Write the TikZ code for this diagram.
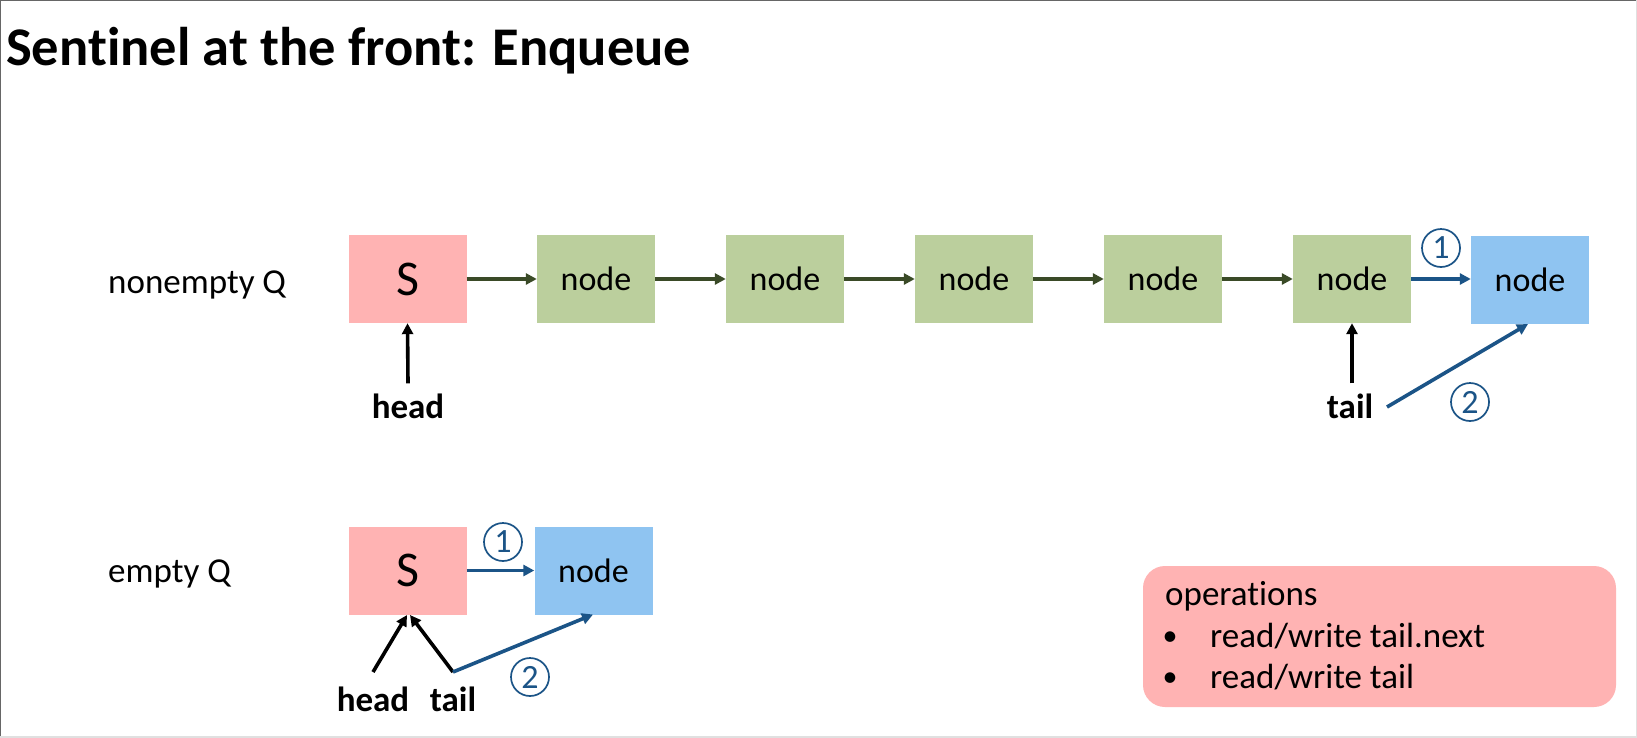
\documentclass[tikz,border=0pt]{standalone}
\usepackage{fontspec}
\setmainfont[Ligatures=NoCommon]{Carlito}
\usetikzlibrary{arrows.meta}
\definecolor{spink}{HTML}{FFB3B3}
\definecolor{ngreen}{HTML}{BBCF9D}
\definecolor{nblue}{HTML}{8FC4F1}
\definecolor{agreen}{HTML}{3A4A27}
\definecolor{ablue}{HTML}{1B5487}
\begin{document}
\begin{tikzpicture}[x=1pt,y=-1pt,
  box/.style={minimum width=118pt,minimum height=88pt,inner sep=0pt,font=\fontsize{34}{40}\selectfont},
  sbox/.style={box,fill=spink,font=\fontsize{50}{56}\selectfont},
  gbox/.style={box,fill=ngreen},
  bbox/.style={box,fill=nblue},
  garrow/.style={draw=agreen,line width=3.6pt,-{Triangle[length=11pt,width=11pt]}},
  barrow/.style={draw=ablue,line width=3.6pt,-{Triangle[length=11pt,width=11pt]}},
  karrow/.style={draw=black,line width=3.6pt,-{Triangle[length=11pt,width=11pt]}},
  circnum/.style={circle,draw=ablue,line width=1.7pt,text=ablue,minimum size=38pt,inner sep=0pt,font=\fontsize{34}{34}\selectfont},
  lbl/.style={font=\fontsize{35}{40}\selectfont,inner sep=0pt},
  blbl/.style={font=\bfseries\fontsize{35}{40}\selectfont,inner sep=0pt},
]
\useasboundingbox (0,0) rectangle (1637,737);
\fill[white] (0,0) rectangle (1637,737);
\draw[black!60,line width=2pt] (0,737) -- (0,0) -- (1637,0);
\draw[black!12,line width=2pt] (1637,0) -- (1637,737) -- (0,737);

\node[anchor=base west,inner sep=0pt,font=\bfseries\fontsize{54.5}{60}\selectfont] (title) at (6,65) {Sentinel at the front: Enqueue};

% nonempty row
\node[lbl,anchor=base west] (lne) at (108,293) {nonempty Q};
\node[sbox] (s1) at (407.5,279) {S};
\node[gbox] (n1) at (596,279) {node};
\node[gbox] (n2) at (785,279) {node};
\node[gbox] (n3) at (974,279) {node};
\node[gbox] (n4) at (1163,279) {node};
\node[gbox] (n5) at (1352,279) {node};
\node[bbox] (n6) at (1530,280) {node};
\draw[garrow] (s1.east) -- (n1.west);
\draw[garrow] (n1.east) -- (n2.west);
\draw[garrow] (n2.east) -- (n3.west);
\draw[garrow] (n3.east) -- (n4.west);
\draw[garrow] (n4.east) -- (n5.west);
\draw[barrow] (n5.east) -- (n6.west |- n5.east);
\node[circnum] (c1a) at (1441,248) {1};

\node[blbl] (head1) at (408,406) {head};
\draw[karrow] ([yshift=10pt]head1.north) -- (s1.south);
\node[blbl] (tail1) at (1350,406) {tail};
\draw[karrow] ([yshift=10pt]tail1.north -| n5.south) -- (n5.south);
\coordinate (t1e) at (1387,407);
\draw[barrow] (t1e) -- (1528,324);
\node[circnum] (c2a) at (1470,402) {2};

% empty row
\node[lbl,anchor=base west] (le) at (108,582) {empty Q};
\node[sbox] (s2) at (407.5,570.5) {S};
\node[bbox] (m1) at (593.5,570.5) {node};
\draw[barrow] (s2.east) -- (m1.west);
\node[circnum] (c1b) at (503,542) {1};
\node[blbl] (head2) at (373,699) {head};
\node[blbl] (tail2) at (453,699) {tail};
\coordinate (h2s) at (373,672);
\coordinate (t2s) at (453,672);
\draw[karrow] (h2s) -- (407,615);
\draw[karrow] (t2s) -- (410,615);
\draw[barrow] (t2s) -- (593,614.5);
\node[circnum] (c2b) at (530,677) {2};

% operations box
\node[fill=spink,rounded corners=22pt,minimum width=473pt,minimum height=141pt,inner sep=0pt] (ops) at (1379.5,636.5) {};
\node[lbl,anchor=base west] (op0) at (1165,605) {operations};
\node[anchor=base,inner sep=0pt,font=\fontsize{30}{30}\selectfont] (b1) at (1170,645) {\textbullet};
\node[lbl,anchor=base west] (op1) at (1210,647) {read/write tail.next};
\node[anchor=base,inner sep=0pt,font=\fontsize{30}{30}\selectfont] (b2) at (1170,686) {\textbullet};
\node[lbl,anchor=base west] (op2) at (1210,688) {read/write tail};
\end{tikzpicture}
\end{document}
